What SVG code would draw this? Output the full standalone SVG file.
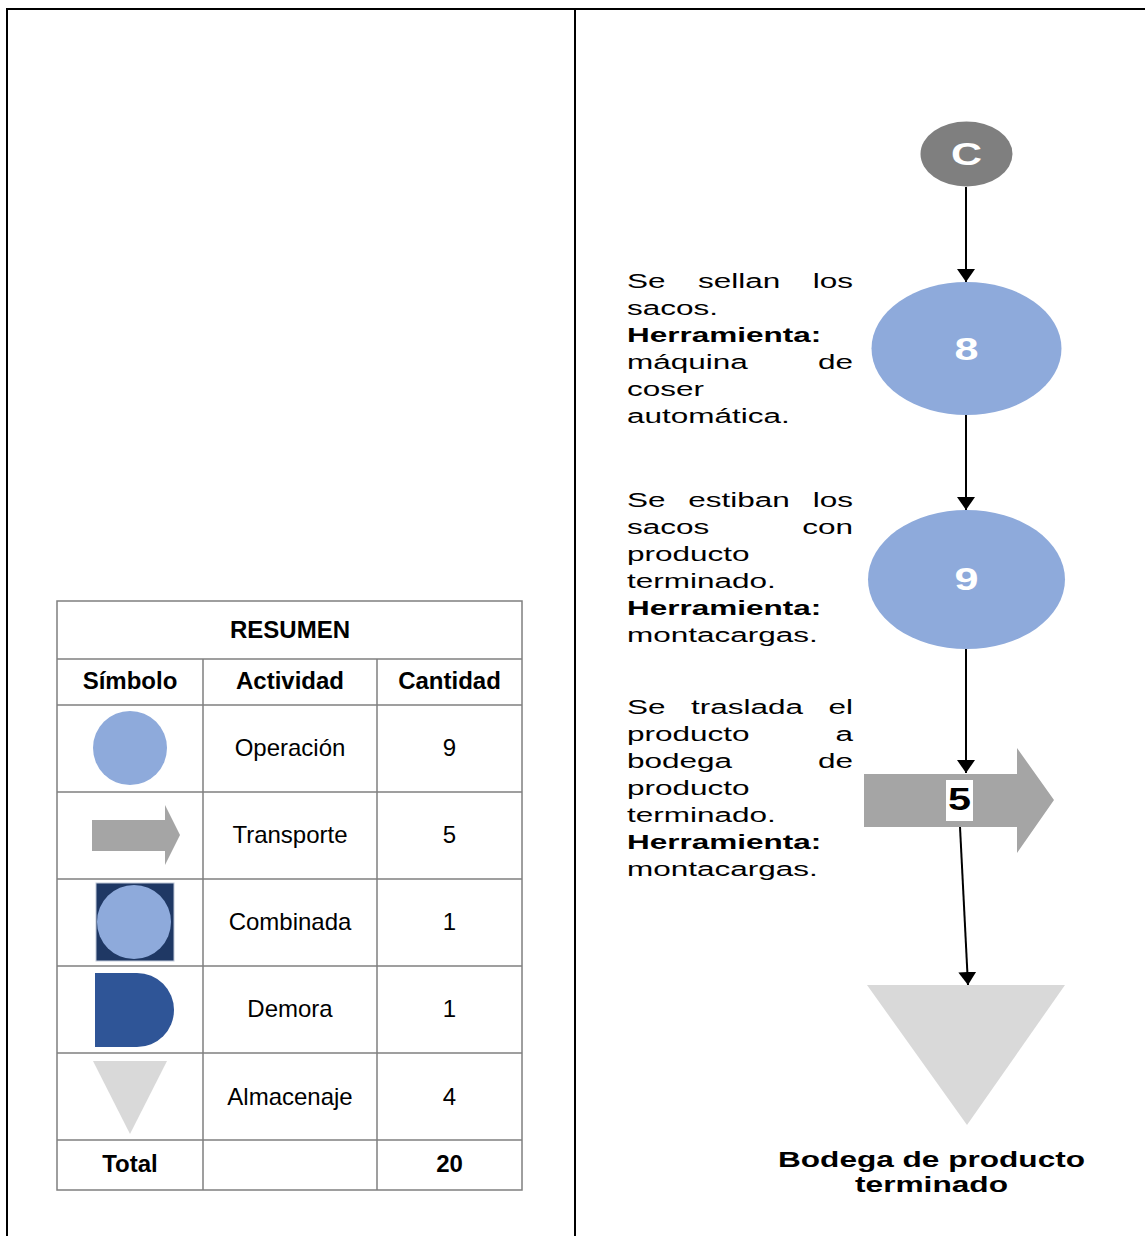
<svg xmlns="http://www.w3.org/2000/svg" width="1145" height="1236" viewBox="0 0 1145 1236">
<style>
.frame{stroke:#000;stroke-width:2;fill:none}
.grid{stroke:#7f7f7f;stroke-width:1.5;fill:none}
.th{font-family:"Liberation Sans",Arial,sans-serif;font-size:24px;font-weight:bold;fill:#000;text-anchor:middle}
.td{font-family:"Liberation Sans",Arial,sans-serif;font-size:24px;fill:#000;text-anchor:middle}
.desc{font-family:"Liberation Sans",Arial,sans-serif;font-size:21px;fill:#000}
.b{font-weight:bold}
.e{text-anchor:end}
.num{font-family:"Liberation Sans",Arial,sans-serif;font-size:32px;font-weight:bold;fill:#fff;text-anchor:middle}
.lbl{font-family:"Liberation Sans",Arial,sans-serif;font-size:22px;font-weight:bold;fill:#000;text-anchor:middle}
.conn{stroke:#000;stroke-width:2;fill:none;marker-end:url(#ah)}
.op{fill:#8eaadb}
.tr{fill:#a5a5a5}
.st{fill:#d9d9d9}
</style>
<defs>
<marker id="ah" viewBox="0 0 13 18" refX="13" refY="9" markerWidth="13" markerHeight="18" orient="auto" markerUnits="userSpaceOnUse">
<path d="M0,0 L13,9 L0,18 Z" fill="#000"/>
</marker>
</defs>
<rect width="1145" height="1236" fill="#fff"/>
<g id="frame">
<line class="frame" x1="6" y1="9" x2="1145" y2="9"/>
<line class="frame" x1="7" y1="8" x2="7" y2="1236"/>
<line class="frame" x1="575" y1="8" x2="575" y2="1236"/>
</g>
<g id="summary-table">
<rect class="grid" x="57" y="601" width="465" height="589"/>
<line class="grid" x1="57" y1="659" x2="522" y2="659"/>
<line class="grid" x1="57" y1="705" x2="522" y2="705"/>
<line class="grid" x1="57" y1="792" x2="522" y2="792"/>
<line class="grid" x1="57" y1="879" x2="522" y2="879"/>
<line class="grid" x1="57" y1="966" x2="522" y2="966"/>
<line class="grid" x1="57" y1="1053" x2="522" y2="1053"/>
<line class="grid" x1="57" y1="1140" x2="522" y2="1140"/>
<line class="grid" x1="203" y1="659" x2="203" y2="1190"/>
<line class="grid" x1="377" y1="659" x2="377" y2="1190"/>
<text class="th" x="290" y="638">RESUMEN</text>
<text class="th" x="130" y="689">Símbolo</text>
<text class="th" x="290" y="689">Actividad</text>
<text class="th" x="449.5" y="689">Cantidad</text>
<circle class="op" cx="130" cy="748" r="37"/>
<text class="td" x="290" y="756">Operación</text>
<text class="td" x="449.5" y="756">9</text>
<path class="tr" d="M92,820 H165 V805 L180,835 L165,865 V851 H92 Z"/>
<text class="td" x="290" y="843">Transporte</text>
<text class="td" x="449.5" y="843">5</text>
<rect x="96" y="883" width="78" height="78" fill="#1f3864" stroke="#c0c8d8" stroke-width="1"/>
<circle class="op" cx="134" cy="922" r="37"/>
<text class="td" x="290" y="930">Combinada</text>
<text class="td" x="449.5" y="930">1</text>
<path d="M95,973 H137 A37,37 0 0 1 137,1047 H95 Z" fill="#2f5597"/>
<text class="td" x="290" y="1017">Demora</text>
<text class="td" x="449.5" y="1017">1</text>
<path class="st" d="M93,1061 H167 L130,1134 Z"/>
<text class="td" x="290" y="1105">Almacenaje</text>
<text class="td" x="449.5" y="1105">4</text>
<text class="th" x="130" y="1172">Total</text>
<text class="th" x="449.5" y="1172">20</text>
</g>
<g id="connectors">
<line class="conn" x1="966" y1="187" x2="966" y2="282"/>
<line class="conn" x1="966" y1="415" x2="966" y2="510"/>
<line class="conn" x1="966" y1="649" x2="966" y2="773"/>
<line class="conn" x1="960" y1="827" x2="968" y2="985"/>
</g>
<g id="node-C">
<ellipse cx="966.5" cy="154" rx="46" ry="32.5" fill="#7f7f7f"/>
<text class="num" x="966.5" y="165" textLength="31" lengthAdjust="spacingAndGlyphs">C</text>
</g>
<g id="node-8">
<ellipse class="op" cx="966.5" cy="348.5" rx="95" ry="66.5"/>
<text class="num" x="966.5" y="360" textLength="24" lengthAdjust="spacingAndGlyphs">8</text>
</g>
<g id="node-9">
<ellipse class="op" cx="966.5" cy="579.5" rx="98.5" ry="69.5"/>
<text class="num" x="966.5" y="590" textLength="24" lengthAdjust="spacingAndGlyphs">9</text>
</g>
<g id="node-5">
<path class="tr" d="M864,774 H1017 V748 L1054,800 L1017,853 V827 H864 Z"/>
<rect x="946" y="780" width="27" height="41" fill="#fff"/>
<text x="959.5" y="810" font-family="Liberation Sans,Arial,sans-serif" font-size="31" font-weight="bold" fill="#000" text-anchor="middle" textLength="23" lengthAdjust="spacingAndGlyphs">5</text>
</g>
<g id="node-storage">
<path class="st" d="M867,985 H1065 L967,1125 Z"/>
<text class="lbl" x="931.5" y="1167" textLength="307" lengthAdjust="spacingAndGlyphs">Bodega de producto</text>
<text class="lbl" x="931.5" y="1192" textLength="153" lengthAdjust="spacingAndGlyphs">terminado</text>
</g>
<g id="desc-8" class="desc" transform="scale(1.5,1)">
<text x="418" y="288">Se</text>
<text x="465.3" y="288">sellan</text>
<text class="e" x="568.7" y="288">los</text>
<text x="418" y="315">sacos.</text>
<text class="b" x="418" y="342">Herramienta:</text>
<text x="418" y="369">máquina</text>
<text class="e" x="568.7" y="369">de</text>
<text x="418" y="396">coser</text>
<text x="418" y="423">automática.</text>
</g>
<g id="desc-9" class="desc" transform="scale(1.5,1)">
<text x="418" y="507">Se</text>
<text x="458.9" y="507">estiban</text>
<text class="e" x="568.7" y="507">los</text>
<text x="418" y="534">sacos</text>
<text class="e" x="568.7" y="534">con</text>
<text x="418" y="561">producto</text>
<text x="418" y="588">terminado.</text>
<text class="b" x="418" y="615">Herramienta:</text>
<text x="418" y="642">montacargas.</text>
</g>
<g id="desc-5" class="desc" transform="scale(1.5,1)">
<text x="418" y="714">Se</text>
<text x="460.7" y="714">traslada</text>
<text class="e" x="568.7" y="714">el</text>
<text x="418" y="741">producto</text>
<text class="e" x="568.7" y="741">a</text>
<text x="418" y="768">bodega</text>
<text class="e" x="568.7" y="768">de</text>
<text x="418" y="795">producto</text>
<text x="418" y="822">terminado.</text>
<text class="b" x="418" y="849">Herramienta:</text>
<text x="418" y="876">montacargas.</text>
</g>
</svg>
